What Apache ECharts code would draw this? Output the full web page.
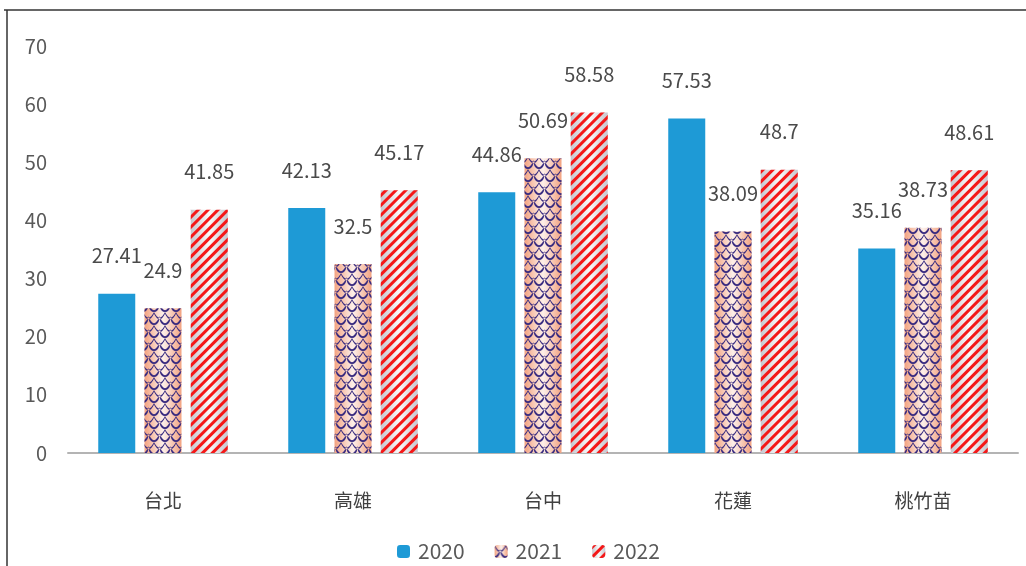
<!DOCTYPE html>
<html><head><meta charset="utf-8">
<script src="https://cdn.jsdelivr.net/npm/echarts@6/dist/echarts.min.js"></script>
<style>html,body{margin:0;padding:0;background:#fff}#c{width:1026px;height:566px}</style>
</head><body><div id="c"></div>
<script>
const categories = ['台北', '高雄', '台中', '花蓮', '桃竹苗'];
const seriesNames = ['2020', '2021', '2022'];
const values2020 = [27.41, 42.13, 44.86, 57.53, 35.16];
const values2021 = [24.9, 32.5, 50.69, 38.09, 38.73];
const values2022 = [41.85, 45.17, 58.58, 48.7, 48.61];
const yMin = 0, yMax = 70, yStep = 10;

const FONT = '"Noto Sans CJK TC", "Noto Sans", sans-serif';
const chart = echarts.init(document.getElementById('c'), null, {renderer: 'canvas'});

const scalePath = 'path://M0,0 Q6,12 12,0 L12,2 Q6,14 0,2 Z M0,14 Q4.5,14 6,7.5 Q7.5,14 12,14 L12,12 Q9,12 6,4.5 Q3,12 0,12 Z';

const labelStyle = {
  show: true, position: 'top', distance: 28,
  fontFamily: FONT, fontSize: 20, color: '#4a4a4a'
};

function hGrad(edge, mid) {
  return new echarts.graphic.LinearGradient(0, 0, 1, 0, [
    {offset: 0, color: edge}, {offset: 0.5, color: mid}, {offset: 1, color: edge}
  ]);
}

const option = {
  backgroundColor: '#fff',
  animation: false,
  grid: {left: 68, right: 8, top: 46, bottom: 113},
  legend: {
    data: seriesNames, left: 392, top: 536,
    itemWidth: 13, itemHeight: 13, itemGap: 30,
    textStyle: {fontFamily: FONT, fontSize: 21, color: '#595959', padding: [0, 0, 0, 3]}
  },
  xAxis: {
    type: 'category', data: categories,
    axisLine: {show: true, lineStyle: {color: '#b4b4b4', width: 2}},
    axisTick: {show: false},
    axisLabel: {fontFamily: FONT, fontSize: 19, color: '#404040', margin: 38}
  },
  yAxis: {
    type: 'value', min: yMin, max: yMax, interval: yStep,
    axisLine: {show: false}, axisTick: {show: false},
    splitLine: {show: false},
    axisLabel: {fontFamily: FONT, fontSize: 20, color: '#595959', margin: 21}
  },
  graphic: [
    {type: 'line', shape: {x1: 4, y1: 10, x2: 1026, y2: 10}, style: {stroke: '#333', lineWidth: 1.5}, z: 100},
    {type: 'line', shape: {x1: 7, y1: 10, x2: 7, y2: 566}, style: {stroke: '#333', lineWidth: 1.5}, z: 100}
  ],
  series: [
    {
      name: seriesNames[0], type: 'bar', data: values2020,
      barWidth: 37, barGap: '25%',
      itemStyle: {color: '#1E9AD6'},
      label: labelStyle
    },
    {
      name: seriesNames[1], type: 'bar', data: values2021,
      barWidth: 37, barGap: '25%',
      itemStyle: {
        color: hGrad('#F3A381', '#FDF0EA'),
        decal: {
          symbol: scalePath, symbolSize: 1, symbolKeepAspect: false,
          dashArrayX: [11, 0], dashArrayY: [13, 0], color: '#3A2C80'
        }
      },
      label: labelStyle
    },
    {
      name: seriesNames[2], type: 'bar', data: values2022,
      barWidth: 37, barGap: '25%',
      itemStyle: {
        color: hGrad('#C6C6CE', '#FAFAFA'),
        decal: {
          symbol: 'rect', symbolSize: 1,
          dashArrayX: [1, 0], dashArrayY: [2.9, 3.7],
          rotation: -Math.PI / 4, color: '#F41818'
        }
      },
      label: labelStyle
    }
  ]
};
chart.setOption(option);
</script>
</body></html>
